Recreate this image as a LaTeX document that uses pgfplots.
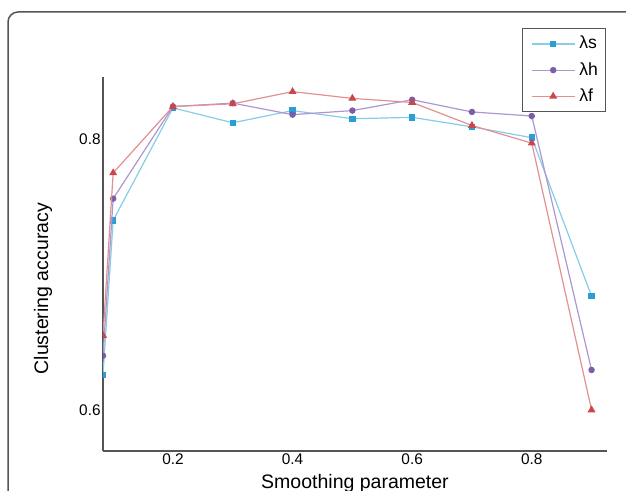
\documentclass[border=0pt]{standalone}
\usepackage{pgfplots}
\pgfplotsset{compat=1.18}
\usepackage{fontspec}
\setmainfont{Liberation Sans}
\definecolor{axgray}{HTML}{555555}
\definecolor{bline}{HTML}{86CDE8}
\definecolor{bmark}{HTML}{2B9FD4}
\definecolor{pline}{HTML}{AD97CF}
\definecolor{pmark}{HTML}{7B5EA7}
\definecolor{rline}{HTML}{E39090}
\definecolor{rmark}{HTML}{C9474A}
\begin{document}
\begin{tikzpicture}
\useasboundingbox (0pt,0pt) rectangle (313pt,-245.5pt);
\clip (0pt,0pt) rectangle (313pt,-245.5pt);
\draw[axgray, line width=0.75pt, rounded corners=5pt] (4pt,-6pt) rectangle (340pt,-270pt);
\begin{axis}[
  at={(51.5pt,-225.5pt)}, anchor=south west,
  scale only axis, width=252pt, height=187pt,
  axis lines*=left,
  axis line style={axgray, line width=1.3pt, -},
  xmin=0.083, xmax=0.9258, ymin=0.5697, ymax=0.8458,
  xtick={0.2,0.4,0.6,0.8}, ytick={0.6,0.8},
  xticklabels={0.2,0.4,0.6,0.8}, yticklabels={0.6,0.8},
  major tick length=0pt,
  tick style={draw=none},
  /pgf/number format/assume math mode=true,
  tick label style={font=\fontsize{7.7pt}{9pt}\selectfont, text=black},
  xticklabel style={inner sep=1pt, yshift=0pt},
  yticklabel style={inner sep=1pt},
  xlabel={Smoothing parameter},
  ylabel={Clustering accuracy},
  label style={font=\fontsize{9.75pt}{11pt}\selectfont},
  xlabel style={at={(axis description cs:0.5,-0.099)}, anchor=base},
  ylabel style={at={(axis description cs:-0.119,0.434)}, anchor=center, rotate=0},
  clip marker paths=true,
  legend style={at={(axis description cs:0.998,1.131)}, anchor=north east,
    draw=axgray, line width=0.5pt, font=\fontsize{8.8pt}{10pt}\selectfont,
    inner sep=1.8pt, row sep=1.2pt, legend cell align=left},
  legend image code/.code={\path (-2.5pt,0pt); \draw[mark repeat=2,mark phase=2] plot coordinates {(0pt,0pt)(10.75pt,0pt)(21.5pt,0pt)};},
]
\addplot[bline, line width=0.6pt, mark=square*, mark size=1.3pt, mark options={draw=bmark, fill=bmark}]
  coordinates {(0.083,0.626)(0.1,0.740)(0.2,0.823)(0.3,0.812)(0.4,0.821)(0.5,0.815)(0.6,0.816)(0.7,0.809)(0.8,0.801)(0.9,0.684)};
\addlegendentry{λs}
\addplot[pline, line width=0.6pt, mark=*, mark size=1.3pt, mark options={draw=pmark, fill=pmark}]
  coordinates {(0.083,0.640)(0.1,0.756)(0.2,0.824)(0.3,0.8265)(0.4,0.818)(0.5,0.821)(0.6,0.829)(0.7,0.820)(0.8,0.817)(0.9,0.6295)};
\addlegendentry{λh}
\addplot[rline, line width=0.6pt, mark=triangle*, mark size=1.7pt, mark options={draw=rmark, fill=rmark}]
  coordinates {(0.083,0.655)(0.1,0.775)(0.2,0.824)(0.3,0.826)(0.4,0.835)(0.5,0.830)(0.6,0.827)(0.7,0.810)(0.8,0.797)(0.9,0.600)};
\addlegendentry{λf}
\end{axis}
\end{tikzpicture}
\end{document}
